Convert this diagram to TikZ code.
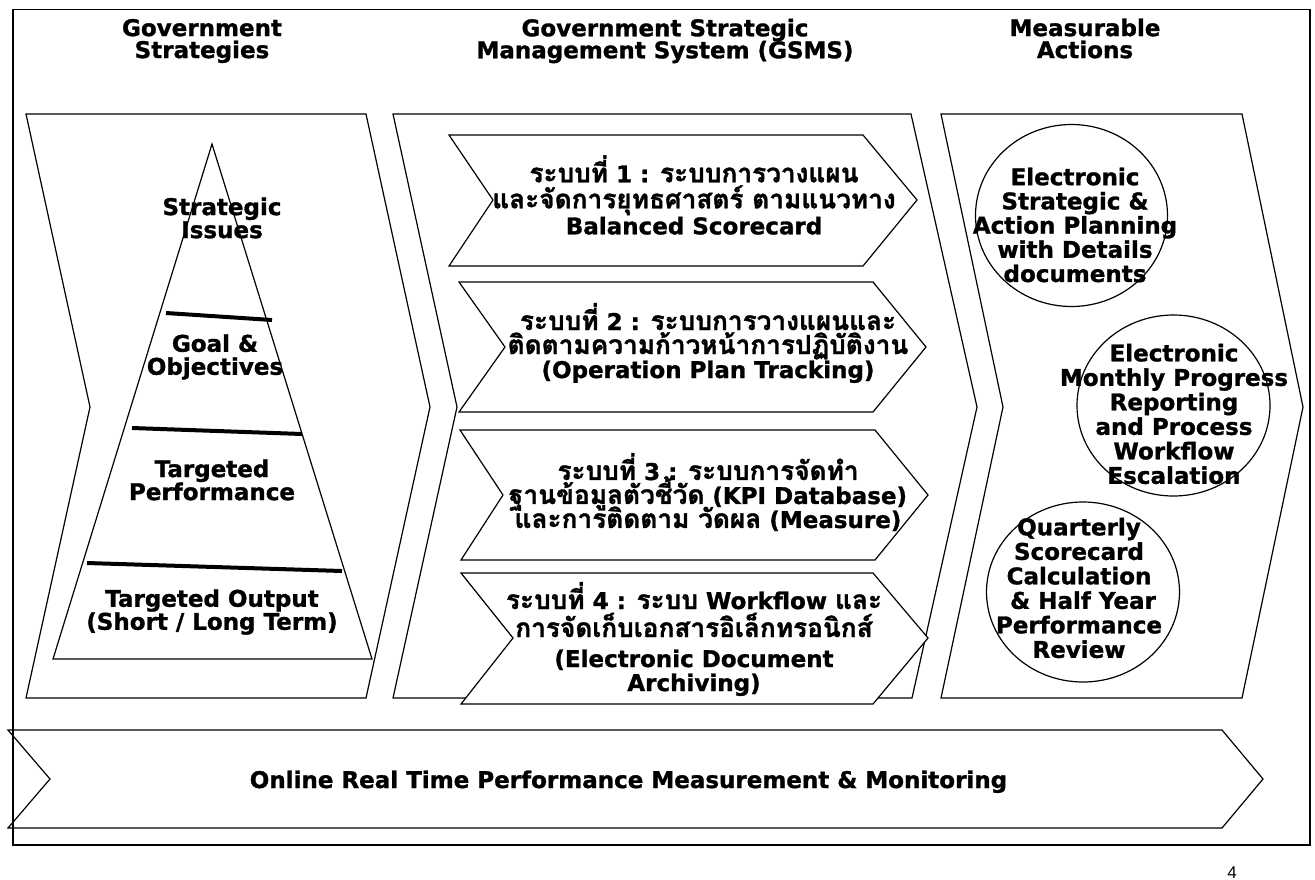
\documentclass[tikz,border=0pt]{standalone}
\usepackage{fontspec}
\setmainfont{DejaVu Sans}[BoldFeatures={FakeBold=1.2}]
\newfontfamily\thaif[Script=Thai, Scale=1.14, BoldFeatures={FakeBold=1.2}]{Loma}
\newfontfamily\pnfont{Liberation Sans}
\begin{document}
\lineskiplimit=-100pt
\begin{tikzpicture}[x=1pt,y=-1pt,
  outline/.style={draw=black, line width=1.2pt, line join=miter},
  subchev/.style={outline, fill=white},
  divider/.style={draw=black, line width=4pt},
  lbl/.style={font=\bfseries\fontsize{23}{23}\selectfont, align=center, inner sep=0pt},
  lblthai/.style={lbl, font=\bfseries\fontsize{23}{24}\selectfont},
  lblcirc/.style={lbl, font=\bfseries\fontsize{23}{24.5}\selectfont}
]
\useasboundingbox (0,0) rectangle (1315,879);

% outer frame
\draw[line width=1.3pt] (13,9.5) rectangle (1310,845);

% column headers
\node[lbl, font=\bfseries\fontsize{23}{22}\selectfont] (h1) at (202,41) {Government\\Strategies};
\node[lbl, font=\bfseries\fontsize{23}{22}\selectfont] (h2) at (665,41) {Government Strategic\\Management System (GSMS)};
\node[lbl, font=\bfseries\fontsize{23}{22}\selectfont] (h3) at (1085,38.5) {Measurable\\Actions};

% big chevrons
\draw[outline] (26,114) -- (366,114) -- (430,407) -- (366,698) -- (26,698) -- (90,407) -- cycle;
\draw[outline] (393,114) -- (911,114) -- (977,407) -- (912,698) -- (393,698) -- (457,407) -- cycle;
\draw[outline] (941,114) -- (1242,114) -- (1303,407) -- (1242,698) -- (941,698) -- (1003,407) -- cycle;

% pyramid
\draw[outline] (212,144) -- (372,659) -- (53,659) -- cycle;
\draw[divider] (166,313) -- (272,320);
\draw[divider] (132,428) -- (302,434);
\draw[divider] (87,563) -- (342,571);

\node[lbl] (p1) at (222,218) {Strategic\\Issues};
\node[lbl] (p2) at (215,357) {Goal \&\\Objectives};
\node[lbl] (p3) at (212,480) {Targeted\\Performance};
\node[lbl] (p4) at (212,612) {Targeted Output\\(Short / Long Term)};

% sub chevrons (GSMS)
\draw[subchev] (449,135) -- (863,135) -- (917,200) -- (863,266) -- (449,266) -- (493,200) -- cycle;
\draw[subchev] (459,282) -- (873,282) -- (926,347) -- (873,412) -- (459,412) -- (505,347) -- cycle;
\draw[subchev] (460,430) -- (875,430) -- (928,495) -- (875,560) -- (461,560) -- (503,495) -- cycle;
\draw[subchev] (461,573) -- (873,573) -- (928,638) -- (873,704) -- (461,704) -- (513,638) -- cycle;

\node[lblthai, font=\bfseries\fontsize{23}{26}\selectfont] (s1) at (694,195)
  {{\thaif ระบบที่} 1 : {\thaif ระบบการวางแผน}\\{\thaif และจัดการยุทธศาสตร์ ตามแนวทาง}\\Balanced Scorecard};
\node[lblthai] (s2) at (708,343)
  {{\thaif ระบบที่} 2 : {\thaif ระบบการวางแผนและ}\\{\thaif ติดตามความก้าวหน้าการปฏิบัติงาน}\\(Operation Plan Tracking)};
\node[lblthai] (s3) at (708,492)
  {{\thaif ระบบที่} 3 : {\thaif ระบบการจัดทำ}\\{\thaif ฐานข้อมูลตัวชี้วัด} (KPI Database)\\{\thaif และการติดตาม วัดผล} (Measure)};
\node[lblthai] (s4) at (694,639)
  {{\thaif ระบบที่} 4 : {\thaif ระบบ} Workflow {\thaif และ}\\[4pt]{\thaif การจัดเก็บเอกสารอิเล็กทรอนิกส์}\\[6pt](Electronic Document\\Archiving)};

% measurable actions circles
\draw[outline] (1071.5,215.5) ellipse [x radius=96, y radius=91];
\draw[outline] (1173.5,405.5) ellipse [x radius=96.5, y radius=90.5];
\draw[outline] (1083,592) ellipse [x radius=96.5, y radius=90];

\node[lblcirc, font=\bfseries\fontsize{23}{24.2}\selectfont] (c1) at (1075,225)
  {Electronic\\Strategic \&\\Action Planning\\with Details\\documents};
\node[lblcirc] (c2) at (1174,414)
  {Electronic\\Monthly Progress\\Reporting\\and Process\\Workflow\\Escalation};
\node[lblcirc] (c3) at (1079,588)
  {Quarterly\\Scorecard\\Calculation\\\ \& Half Year\\Performance\\Review};

% bottom arrow
\draw[outline] (8,730) -- (1222,730) -- (1263,779) -- (1222,828) -- (8,828) -- (50,779) -- cycle;
\node[lbl, anchor=base] (bt) at (628.5,788) {Online Real Time Performance Measurement \& Monitoring};

% page number
\node[inner sep=0pt, anchor=base, font=\pnfont\fontsize{17}{17}\selectfont] (pg) at (1232,878) {4};
\end{tikzpicture}
\end{document}
